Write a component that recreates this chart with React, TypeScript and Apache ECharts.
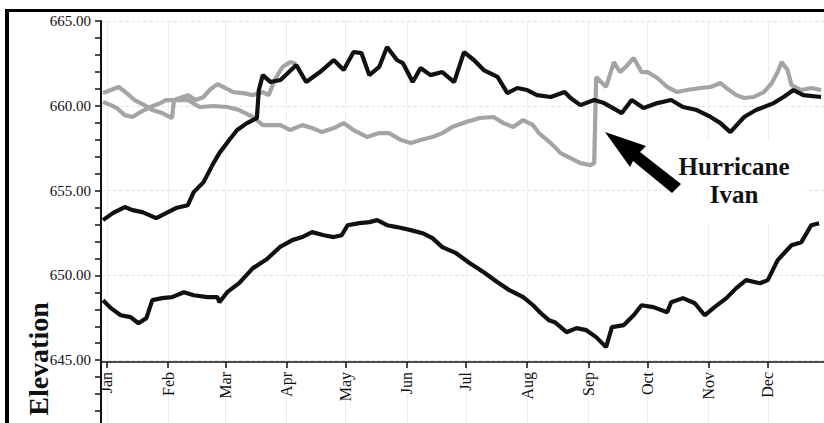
import React, { useEffect, useRef } from 'react';
import * as echarts from 'echarts';

const MONTHS = ['Jan', 'Feb', 'Mar', 'Apr', 'May', 'Jun', 'Jul', 'Aug', 'Sep', 'Oct', 'Nov', 'Dec'];

// [day of 2004 (0 = Jan 1), elevation]
const lowerBlack: [number, number][] = [
  [-2, 648.54], [2, 648.07], [7, 647.65], [12, 647.54], [16, 647.18], [20, 647.48], [23, 648.54],
  [28, 648.66], [33, 648.72], [39, 649.01], [44, 648.83], [51, 648.72], [56, 648.72], [57, 648.42],
  [61, 649.01], [67, 649.54], [74, 650.43], [81, 650.95], [88, 651.7], [94, 652.08], [99, 652.26],
  [104, 652.55], [110, 652.37], [115, 652.26], [119, 652.37], [122, 652.96], [128, 653.08],
  [133, 653.14], [137, 653.26], [142, 652.96], [147, 652.85], [154, 652.67], [160, 652.49],
  [165, 652.2], [170, 651.67], [177, 651.31], [184, 650.72], [191, 650.19], [198, 649.6],
  [204, 649.13], [211, 648.72], [216, 648.24], [220, 647.77], [224, 647.36], [227, 647.24],
  [233, 646.65], [238, 646.89], [243, 646.77], [248, 646.36], [253, 645.77], [256, 646.95],
  [262, 647.07], [267, 647.65], [271, 648.24], [277, 648.13], [284, 647.83], [286, 648.42],
  [292, 648.66], [298, 648.36], [303, 647.65], [308, 648.13], [314, 648.66], [319, 649.25],
  [324, 649.72], [331, 649.54], [335, 649.72], [340, 650.9], [347, 651.78], [352, 651.96],
  [357, 652.96], [361, 653.08],
];

const upperBlack: [number, number][] = [
  [-2, 653.26], [3, 653.67], [9, 654.03], [13, 653.85], [18, 653.73], [25, 653.38], [30, 653.67],
  [35, 653.97], [41, 654.14], [44, 654.91], [49, 655.5], [54, 656.62], [57, 657.21], [62, 657.98],
  [66, 658.57], [71, 658.98], [74, 659.16], [76, 659.28], [77, 660.93], [79, 661.81], [83, 661.4],
  [88, 661.52], [96, 662.4], [101, 661.4], [108, 661.99], [115, 662.7], [120, 662.11], [125, 663.17],
  [129, 663.11], [133, 661.81], [138, 662.29], [142, 663.47], [147, 662.7], [150, 662.52],
  [155, 661.4], [159, 662.23], [164, 661.81], [170, 661.99], [176, 661.4], [181, 663.17],
  [186, 662.7], [191, 662.11], [198, 661.7], [203, 660.75], [208, 661.05], [213, 660.93],
  [218, 660.63], [225, 660.52], [232, 660.81], [235, 660.46], [240, 660.04], [247, 660.34],
  [252, 660.16], [261, 659.57], [266, 660.34], [272, 659.87], [279, 660.16], [286, 660.34],
  [292, 659.93], [299, 659.75], [306, 659.34], [311, 658.98], [316, 658.45], [323, 659.34],
  [329, 659.75], [338, 660.16], [343, 660.52], [348, 660.93], [353, 660.63], [362, 660.52],
];

const grayEarly: [number, number][] = [
  [-2, 660.75], [2, 660.93], [6, 661.11], [10, 660.75], [14, 660.34], [19, 660.04], [23, 659.75],
  [28, 659.57], [33, 659.28], [34, 660.34], [37, 660.46], [41, 660.63], [45, 660.34], [49, 660.52],
  [52, 660.93], [56, 661.28], [60, 661.05], [64, 660.81], [69, 660.75], [74, 660.63], [79, 660.81],
  [82, 660.63], [85, 661.52], [89, 662.29], [93, 662.58], [96, 662.46],
];

const grayFull: [number, number][] = [
  [-2, 660.22], [2, 660.04], [5, 659.87], [9, 659.45], [13, 659.34], [17, 659.63], [22, 659.93],
  [27, 660.16], [30, 660.34], [34, 660.34], [41, 660.34], [47, 659.93], [54, 659.99], [61, 659.93],
  [67, 659.75], [74, 659.34], [79, 658.86], [88, 658.86], [93, 658.57], [99, 658.86], [104, 658.69],
  [109, 658.45], [115, 658.69], [120, 658.98], [125, 658.57], [132, 658.16], [138, 658.39],
  [143, 658.39], [149, 657.98], [154, 657.8], [159, 657.98], [165, 658.16], [170, 658.39],
  [175, 658.75], [182, 659.04], [189, 659.28], [196, 659.34], [201, 658.98], [206, 658.75],
  [211, 659.16], [216, 658.86], [219, 658.39], [225, 657.8], [230, 657.21], [235, 656.92],
  [240, 656.62], [245, 656.5], [247, 656.62], [248, 661.7], [251, 661.34], [253, 661.11],
  [257, 662.58], [260, 661.99], [263, 662.29], [267, 662.82], [271, 661.99], [274, 661.99],
  [279, 661.64], [284, 661.11], [289, 660.81], [294, 660.93], [301, 661.05], [306, 661.11],
  [311, 661.34], [314, 661.05], [319, 660.63], [323, 660.46], [328, 660.52], [333, 660.81],
  [337, 661.34], [340, 661.99], [342, 662.58], [345, 662.11], [347, 661.22], [352, 660.93],
  [357, 661.05], [362, 660.93],
];

// labelled y ticks
const Y_LABELS = [645, 650, 655, 660, 665];

const START = Date.UTC(2003, 11, 29);
const END = Date.UTC(2004, 11, 31);
const categories: string[] = [];
for (let t = START; t <= END; t += 86400000) categories.push(new Date(t).toISOString().slice(0, 10));
const DAY_OFFSET = 3; // index of Jan 1

const toSeries = (pts: [number, number][]) => pts.map(([d, v]) => [d + DAY_OFFSET, v]);
const isMonthStart = (_i: number, v: string) => typeof v === 'string' && v.slice(8, 10) === '01';

const SERIF = '"Liberation Serif", "Times New Roman", serif';

export default function App() {
  const ref = useRef<HTMLDivElement>(null);
  useEffect(() => {
    if (!ref.current) return;
    const chart = echarts.init(ref.current, undefined, { renderer: 'svg' });
    const lineStyle = (color: string) => ({ color, width: 4.2 });
    chart.setOption({
      animation: false,
      backgroundColor: '#ffffff',
      grid: { left: 101, right: -3, top: 21, bottom: -22, containLabel: false, outerBoundsMode: 'none' },
      xAxis: {
        type: 'category',
        data: categories,
        boundaryGap: false,
        offset: -83,
        axisLine: { show: true, lineStyle: { color: '#111', width: 1.5 } },
        axisTick: { show: true, interval: isMonthStart, length: 6, lineStyle: { color: '#111', width: 1.5 } },
        axisLabel: {
          show: true,
          interval: isMonthStart,
          rotate: 90,
          margin: 10,
          formatter: (v: string) => MONTHS[parseInt(v.slice(5, 7), 10) - 1],
          fontFamily: SERIF,
          fontSize: 16,
          color: '#111',
        },
        splitLine: { show: true, interval: isMonthStart, lineStyle: { color: '#ededed', width: 1 } },
      },
      yAxis: {
        type: 'value',
        min: 640,
        max: 665,
        interval: 5,
        axisLine: { show: true, lineStyle: { color: '#111', width: 2 } },
        axisTick: { show: true, length: 6, lineStyle: { color: '#111', width: 1.5 } },
        minorTick: { show: true, splitNumber: 5, length: 6, lineStyle: { color: '#111', width: 1.5 } },
        minorSplitLine: { show: false },
        axisLabel: {
          formatter: (v: number) => (Y_LABELS.includes(Math.round(v)) ? v.toFixed(2) : ''),
          margin: 10,
          fontFamily: SERIF,
          fontSize: 15,
          color: '#111',
        },
        splitLine: { show: true, lineStyle: { color: '#e2e2e2', type: 'dashed', width: 1 } },
      },
      series: [
        { type: 'line', data: toSeries(grayEarly), symbol: 'none', lineStyle: lineStyle('#a4a4a4'), itemStyle: { color: '#a4a4a4' }, z: 2 },
        { type: 'line', data: toSeries(grayFull), symbol: 'none', lineStyle: lineStyle('#a4a4a4'), itemStyle: { color: '#a4a4a4' }, z: 2 },
        { type: 'line', data: toSeries(upperBlack), symbol: 'none', lineStyle: lineStyle('#111111'), itemStyle: { color: '#111' }, z: 3 },
        { type: 'line', data: toSeries(lowerBlack), symbol: 'none', lineStyle: lineStyle('#111111'), itemStyle: { color: '#111' }, z: 3 },
      ],
      graphic: [
        { type: 'rect', z: 100, shape: { x: 5, y: 9, width: 819, height: 3 }, style: { fill: '#000' } },
        { type: 'rect', z: 100, shape: { x: 5, y: 9, width: 4, height: 414 }, style: { fill: '#000' } },
        { type: 'rect', z: 1, shape: { x: 668, y: 140, width: 138, height: 84 }, style: { fill: '#fff' } },
        {
          type: 'text', z: 100, x: 734, y: 166,
          style: { text: 'Hurricane', font: 'bold 25px ' + SERIF, fill: '#111', textAlign: 'center', textVerticalAlign: 'middle', align: 'center', verticalAlign: 'middle' },
        },
        {
          type: 'text', z: 100, x: 734, y: 194,
          style: { text: 'Ivan', font: 'bold 25px ' + SERIF, fill: '#111', textAlign: 'center', textVerticalAlign: 'middle', align: 'center', verticalAlign: 'middle' },
        },
        {
          type: 'polygon', z: 100,
          shape: { points: [[605, 132], [646, 146], [640, 152], [681, 184], [672, 193], [633, 161], [630, 167]] },
          style: { fill: '#000' },
        },
        {
          type: 'text', z: 100, x: 38, y: 359, rotation: Math.PI / 2,
          style: { text: 'Elevation', font: 'bold 28px ' + SERIF, fill: '#111', textAlign: 'center', textVerticalAlign: 'middle', align: 'center', verticalAlign: 'middle' },
        },
      ],
    });
    return () => chart.dispose();
  }, []);
  return <div ref={ref} style={{ position: 'fixed', left: 0, top: 0, width: 824, height: 423 }} />;
}
